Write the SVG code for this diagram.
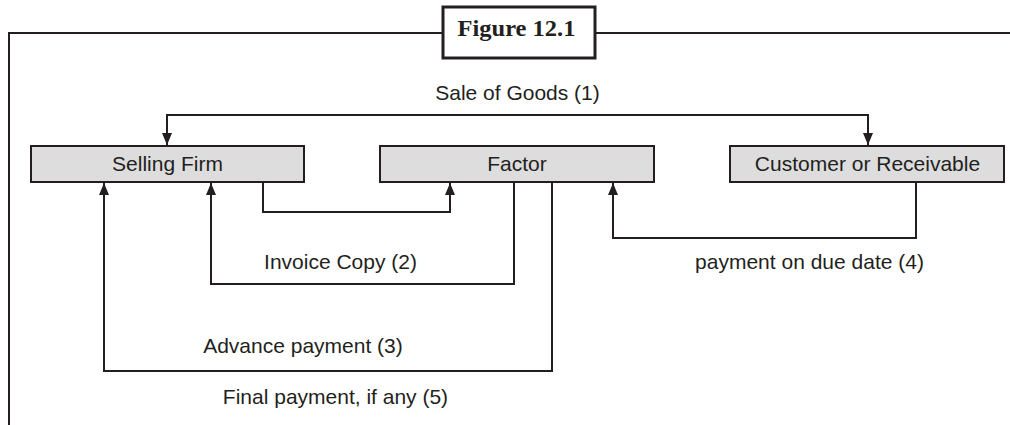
<svg xmlns="http://www.w3.org/2000/svg" width="1010" height="425" viewBox="0 0 1010 425">
<style>
.ln{fill:none;stroke:#231f20;stroke-width:2}
.box{fill:#dddddd;stroke:#231f20;stroke-width:2}
.t{font-family:"Liberation Sans",Arial,sans-serif;font-size:21px;fill:#231f20;text-anchor:middle}
.title{font-family:"Liberation Serif","Times New Roman",serif;font-size:23px;font-weight:bold;fill:#231f20;text-anchor:middle}
</style>
<defs>
<marker id="ah" viewBox="0 0 12 10" refX="12" refY="5" markerWidth="12" markerHeight="10" markerUnits="userSpaceOnUse" orient="auto-start-reverse">
<path d="M0,0 L12,5 L0,10 Z" fill="#231f20"/>
</marker>
</defs>
<rect width="1010" height="425" fill="#ffffff"/>
<g id="frame">
<path class="ln" d="M442,33 H9 V425"/>
<path class="ln" d="M595,33 H1010"/>
</g>
<g id="title">
<rect x="443" y="7" width="152" height="51" fill="#ffffff" stroke="#231f20" stroke-width="3"/>
<text class="title" x="516.5" y="36" textLength="118" lengthAdjust="spacingAndGlyphs">Figure 12.1</text>
</g>
<g id="connectors">
<path class="ln" d="M167,145 V115 H868 V145" marker-start="url(#ah)" marker-end="url(#ah)"/>
<path class="ln" d="M263,182 V212 H450 V183" marker-end="url(#ah)"/>
<path class="ln" d="M514,182 V284 H211 V183" marker-end="url(#ah)"/>
<path class="ln" d="M552,182 V371 H104 V183" marker-end="url(#ah)"/>
<path class="ln" d="M916,182 V238 H613 V183" marker-end="url(#ah)"/>
<text class="t" x="517.5" y="100">Sale of Goods (1)</text>
<text class="t" x="340.5" y="269">Invoice Copy (2)</text>
<text class="t" x="809.5" y="269">payment on due date (4)</text>
<text class="t" x="303" y="353">Advance payment (3)</text>
<text class="t" x="335.5" y="404">Final payment, if any (5)</text>
</g>
<g id="selling-firm">
<rect class="box" x="31" y="146" width="273" height="36"/>
<text class="t" x="167.5" y="171">Selling Firm</text>
</g>
<g id="factor">
<rect class="box" x="380" y="146" width="274" height="36"/>
<text class="t" x="517" y="171">Factor</text>
</g>
<g id="customer">
<rect class="box" x="730" y="146" width="274" height="36"/>
<text class="t" x="867.5" y="171">Customer or Receivable</text>
</g>
</svg>
